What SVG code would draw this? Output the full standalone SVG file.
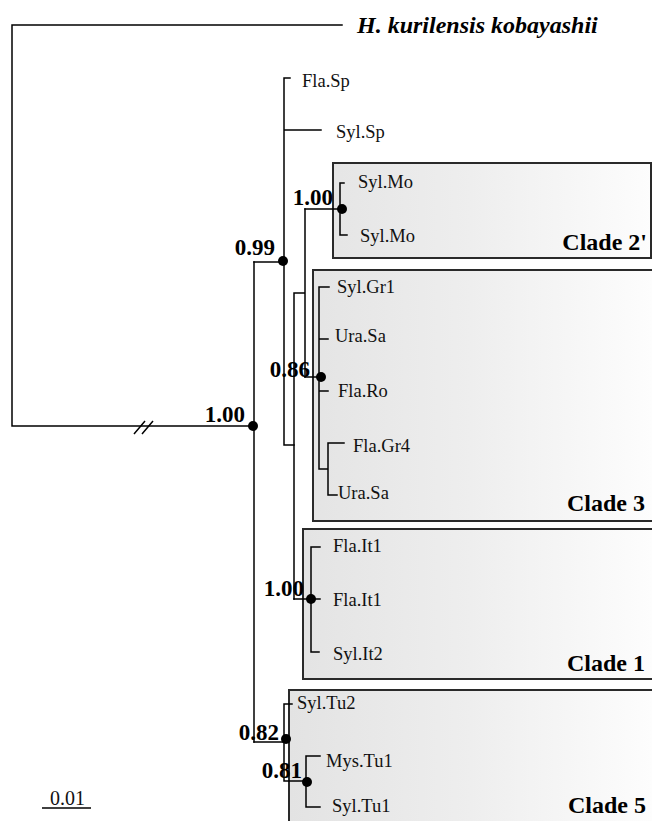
<svg xmlns="http://www.w3.org/2000/svg" width="652" height="821" viewBox="0 0 652 821">
  <defs>
    <linearGradient id="shade" gradientUnits="userSpaceOnUse" x1="290" y1="0" x2="652" y2="0">
      <stop offset="0" stop-color="#e3e3e3"/>
      <stop offset="0.5" stop-color="#eeeeee"/>
      <stop offset="1" stop-color="#fdfdfd"/>
    </linearGradient>
    <style>
      .br { stroke: #000; stroke-width: 1.5; fill: none; stroke-linecap: square; }
      .box { fill: url(#shade); stroke: #2a2a2a; stroke-width: 2; }
      .dot { fill: #000; }
      .tx { font-family: "Liberation Serif", "Times New Roman", serif; font-size: 18.5px; fill: #111; }
      .sc { font-family: "Liberation Serif", "Times New Roman", serif; font-size: 20px; fill: #111; }
      .bs { font-family: "Liberation Serif", "Times New Roman", serif; font-size: 23px; font-weight: bold; fill: #000; }
      .cl { font-family: "Liberation Serif", "Times New Roman", serif; font-size: 24px; font-weight: bold; fill: #000; }
      .og { font-family: "Liberation Serif", "Times New Roman", serif; font-size: 24px; font-weight: bold; font-style: italic; fill: #000; }
    </style>
  </defs>
  <rect width="652" height="821" fill="#fff"/>

  <!-- clade boxes -->
  <g id="clade2p">
    <rect class="box" x="333" y="163" width="318" height="95"/>
    <text class="cl" x="647" y="250" text-anchor="end">Clade 2'</text>
  </g>
  <g id="clade3">
    <rect class="box" x="313" y="270" width="360" height="251"/>
    <text class="cl" x="645" y="511" text-anchor="end">Clade 3</text>
  </g>
  <g id="clade1">
    <rect class="box" x="303" y="529" width="370" height="150"/>
    <text class="cl" x="645" y="671" text-anchor="end">Clade 1</text>
  </g>
  <g id="clade5">
    <rect class="box" x="289" y="690" width="384" height="150"/>
    <text class="cl" x="646" y="813" text-anchor="end">Clade 5</text>
  </g>

  <!-- branches -->
  <g id="connectors" class="br">
    <!-- root and outgroup -->
    <path d="M12,25 H342 M12,25 V426 H254"/>
    <path d="M134,434 L145,421 M142,434 L153,421" stroke-linecap="butt"/>
    <!-- node 1.00 (ingroup) -->
    <path d="M254,262 V742"/>
    <path d="M254,262 H284"/>
    <!-- node 0.99 -->
    <path d="M284,78 V445 M284,78 H290 M284,130 H321 M284,445 H294"/>
    <!-- inner nodes -->
    <path d="M294,293 V599 M294,293 H305 M305,209 V377"/>
    <!-- clade 2' -->
    <path d="M305,209 H340 M340,183 V235 M340,183 H344 M340,235 H347"/>
    <!-- clade 3 -->
    <path d="M305,377 H319 M319,287 V469 M319,287 H329 M319,339 H328 M319,391 H328 M319,469 H328 M328,443 V495 M328,443 H344 M328,495 H337"/>
    <!-- clade 1 -->
    <path d="M294,599 H311 M311,547 V652 M311,547 H320 M311,599 H320 M311,652 H319"/>
    <!-- clade 5 -->
    <path d="M254,742 H284 M284,704 V781 M284,704 H292 M284,781 H306 M306,756 V807 M306,756 H320 M306,807 H320"/>
    <!-- scale bar -->
    <path d="M42,808 H91" stroke-linecap="butt"/>
  </g>

  <!-- support nodes -->
  <g id="node-root">
    <circle class="dot" cx="253" cy="426" r="5"/>
    <text class="bs" x="245" y="422" text-anchor="end">1.00</text>
  </g>
  <g id="node-099">
    <circle class="dot" cx="283" cy="261" r="5"/>
    <text class="bs" x="275" y="255" text-anchor="end">0.99</text>
  </g>
  <g id="node-clade2p">
    <circle class="dot" cx="342" cy="209" r="5"/>
    <text class="bs" x="333" y="205" text-anchor="end">1.00</text>
  </g>
  <g id="node-clade3">
    <circle class="dot" cx="321" cy="377" r="5"/>
    <text class="bs" x="310" y="377" text-anchor="end">0.86</text>
  </g>
  <g id="node-clade1">
    <circle class="dot" cx="311" cy="599" r="5"/>
    <text class="bs" x="304" y="596" text-anchor="end">1.00</text>
  </g>
  <g id="node-082">
    <circle class="dot" cx="286" cy="739" r="5"/>
    <text class="bs" x="279" y="740" text-anchor="end">0.82</text>
  </g>
  <g id="node-081">
    <circle class="dot" cx="307" cy="782" r="5"/>
    <text class="bs" x="302" y="778" text-anchor="end">0.81</text>
  </g>

  <!-- leaves -->
  <g id="outgroup"><text class="og" x="357" y="33">H. kurilensis kobayashii</text></g>
  <g id="leaf-fla-sp"><text class="tx" x="302" y="87">Fla.Sp</text></g>
  <g id="leaf-syl-sp"><text class="tx" x="336" y="138">Syl.Sp</text></g>
  <g id="leaf-syl-mo1"><text class="tx" x="358" y="188">Syl.Mo</text></g>
  <g id="leaf-syl-mo2"><text class="tx" x="360" y="242">Syl.Mo</text></g>
  <g id="leaf-syl-gr1"><text class="tx" x="337" y="293">Syl.Gr1</text></g>
  <g id="leaf-ura-sa1"><text class="tx" x="335" y="342">Ura.Sa</text></g>
  <g id="leaf-fla-ro"><text class="tx" x="338" y="397">Fla.Ro</text></g>
  <g id="leaf-fla-gr4"><text class="tx" x="353" y="452">Fla.Gr4</text></g>
  <g id="leaf-ura-sa2"><text class="tx" x="338" y="499">Ura.Sa</text></g>
  <g id="leaf-fla-it1a"><text class="tx" x="333" y="552">Fla.It1</text></g>
  <g id="leaf-fla-it1b"><text class="tx" x="333" y="606">Fla.It1</text></g>
  <g id="leaf-syl-it2"><text class="tx" x="333" y="660">Syl.It2</text></g>
  <g id="leaf-syl-tu2"><text class="tx" x="297" y="709">Syl.Tu2</text></g>
  <g id="leaf-mys-tu1"><text class="tx" x="326" y="767">Mys.Tu1</text></g>
  <g id="leaf-syl-tu1"><text class="tx" x="332" y="812">Syl.Tu1</text></g>

  <g id="scale"><text class="sc" x="50" y="805">0.01</text></g>
</svg>
